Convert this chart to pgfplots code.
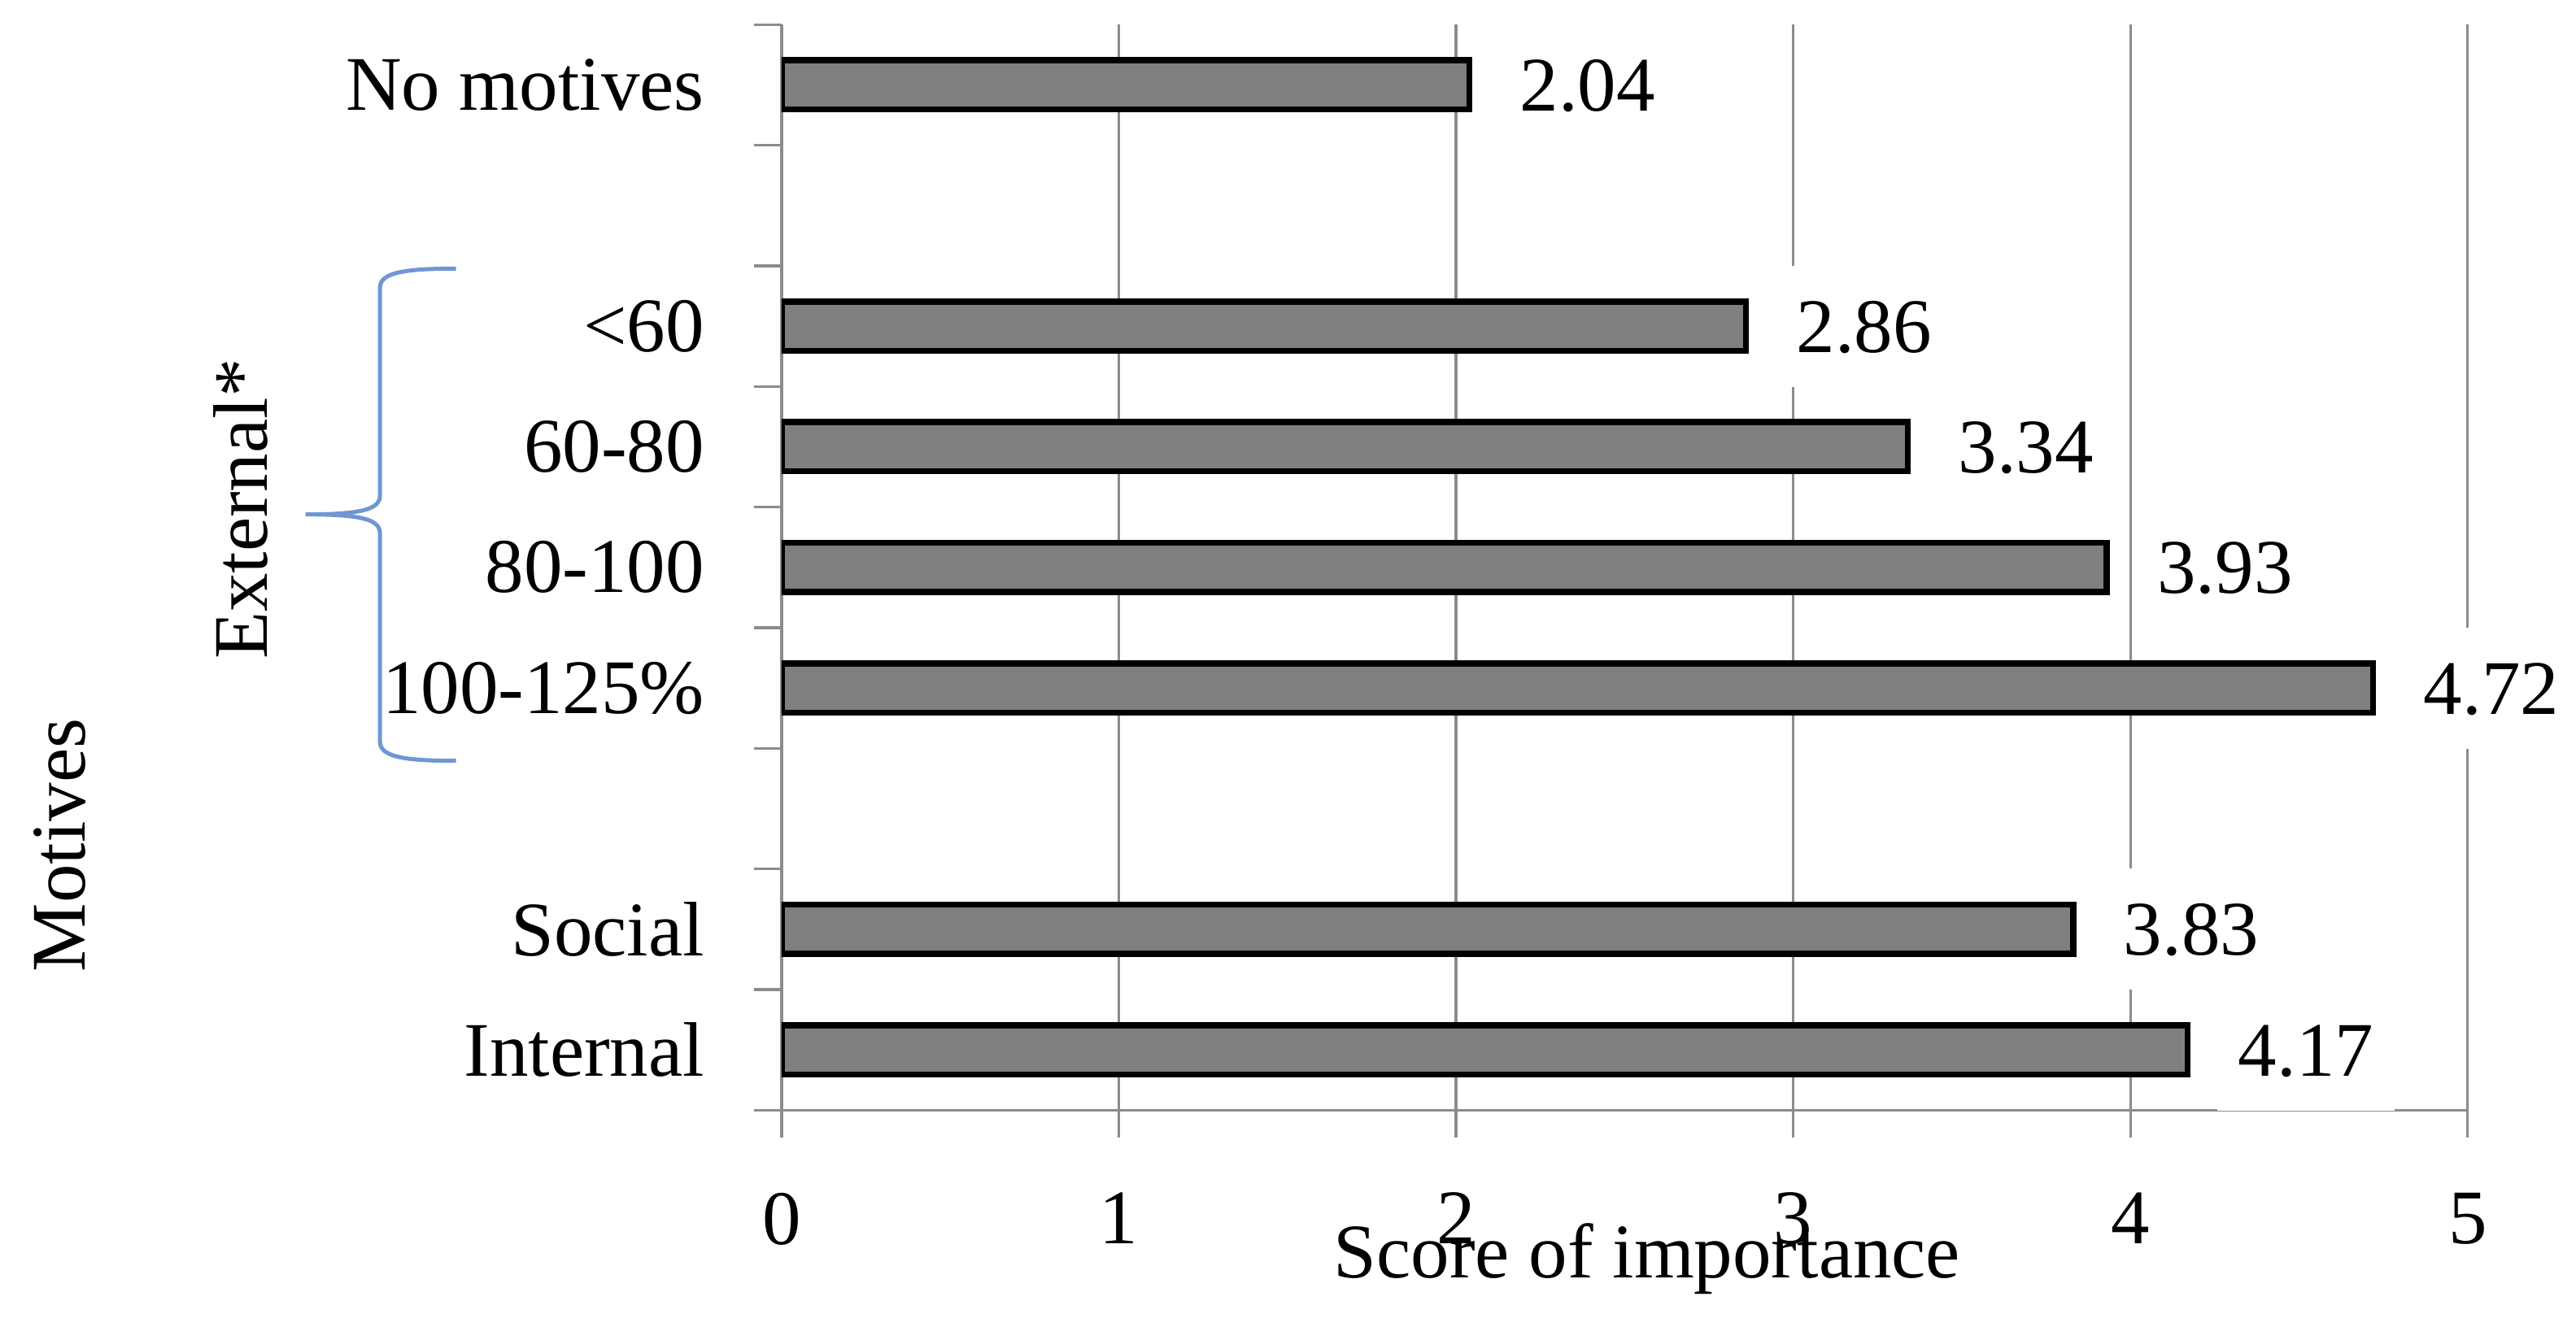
\documentclass[border=0pt]{standalone}
\usepackage{fontspec}
\setmainfont{Liberation Serif}
\usepackage{pgfplots}
\usepackage{pgfplotstable}
\pgfplotsset{compat=1.18}
\definecolor{gridgray}{RGB}{140,140,140}
\definecolor{barfill}{RGB}{127,127,127}
\definecolor{braceblue}{RGB}{112,150,212}

% position on the y axis (2 and 7 are empty gaps), score
\pgfplotstableread{
pos score
0 4.17
1 3.83
3 4.72
4 3.93
5 3.34
6 2.86
8 2.04
}\motives

\begin{document}
\fontsize{13.2}{15.8}\selectfont
\begin{tikzpicture}
\begin{axis}[
  scale only axis, width=288pt, height=185.5pt,
  xbar, bar width=8.4pt,
  xmin=0, xmax=5, ymin=-0.5, ymax=8.5,
  axis x line*=bottom, axis y line*=left,
  axis line style={gridgray, line width=0.45pt},
  xtick={0,...,5}, xmajorgrids, grid style={gridgray, line width=0.45pt},
  ytick={-0.5,0.5,...,8.5},
  yticklabels={Internal,Social,{},100-125\%,80-100,60-80,<60,{},No motives},
  y tick label as interval,
  tick align=outside, major tick length=4.7pt,
  tick style={gridgray, line width=0.45pt},
  xticklabel style={yshift=-4.8pt},
  yticklabel style={xshift=-3.9pt},
  /pgf/number format/assume math mode=true,
  nodes near coords={\pgfmathprintnumber[fixed,fixed zerofill,precision=2]{\pgfplotspointmeta}},
  every node near coord/.append style={anchor=west, xshift=4.5pt, fill=white,
    inner xsep=3.6pt, inner ysep=5.9pt, text height=8.9pt, text depth=0pt, text=black},
]
\addplot[fill=barfill, draw=black, line width=1.05pt] table[x=score, y=pos] {\motives};
\end{axis}
% brace grouping the external motives
\draw[braceblue, line width=0.7pt] (-55.6pt,143.8pt) .. controls (-65pt,143.8pt) and (-68.6pt,143pt) .. (-68.6pt,140.5pt)
  -- (-68.6pt,105pt) .. controls (-68.6pt,102.6pt) and (-72pt,101.8pt) .. (-81.3pt,101.8pt)
  .. controls (-72pt,101.8pt) and (-68.6pt,101pt) .. (-68.6pt,98.6pt)
  -- (-68.6pt,63pt) .. controls (-68.6pt,60.5pt) and (-65pt,59.7pt) .. (-55.6pt,59.7pt);
\node[rotate=90] at (-92.4pt,102.7pt) {External*};
\node[rotate=90] at (-123.3pt,45.3pt) {Motives};
\node[anchor=base west, inner sep=0pt] at (94.1pt,-28.6pt) {Score of importance};
\pgfresetboundingbox
\path (-133.5pt,-37pt) rectangle (306.5pt,189.7pt);
\end{tikzpicture}
\end{document}
